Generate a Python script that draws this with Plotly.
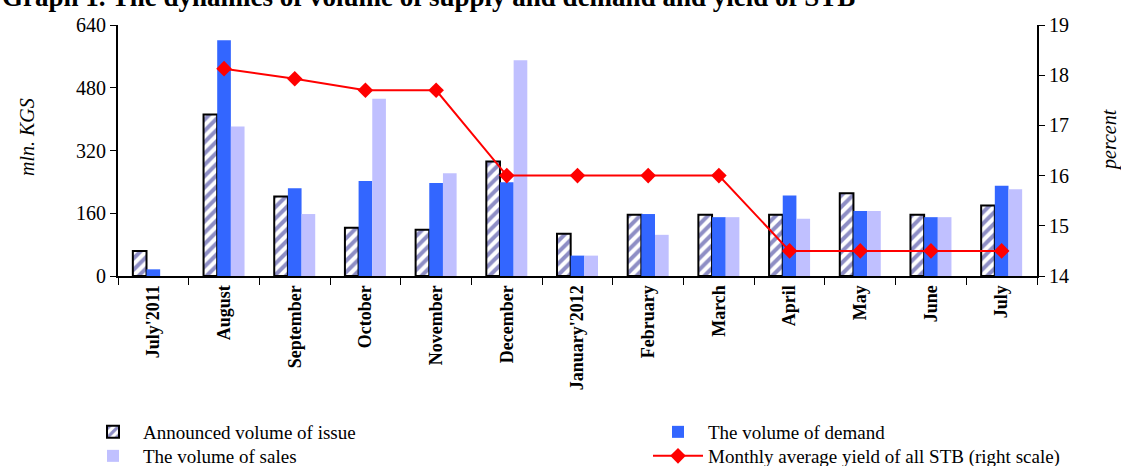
import plotly.graph_objects as go

categories = ["July'2011", "August", "September", "October", "November", "December",
              "January'2012", "February", "March", "April", "May", "June", "July"]
announced = [64, 412, 203, 123, 118, 292, 108, 156, 156, 156, 211, 156, 180]
demand = [17, 601, 224, 242, 237, 239, 52, 158, 150, 205, 166, 150, 230]
sales = [0, 381, 158, 452, 262, 550, 52, 105, 150, 146, 166, 150, 221]
yield_pct = [None, 18.13, 17.93, 17.7, 17.7, 16.0, 16.0, 16.0, 16.0, 14.5, 14.5, 14.5, 14.5]

FONT = "Liberation Serif"
W, H = 1121, 466
ML, MR, MT, MB = 118, 84, 25, 190
PW, PH = W - ML - MR, H - MT - MB


def px_x(p):
    return (p - ML) / PW


def px_y(p):
    return (H - MB - p) / PH


fig = go.Figure()
fig.add_trace(go.Bar(
    x=categories, y=announced, name="Announced volume of issue", legend="legend",
    marker=dict(color="white", line=dict(color="black", width=2),
                pattern=dict(shape="/", fgcolor="#1E1E8C", bgcolor="white", size=8, solidity=0.5)),
))
fig.add_trace(go.Bar(
    x=categories, y=demand, name="The volume of demand", legend="legend2",
    marker=dict(color="#3366FF", line=dict(width=0)),
))
fig.add_trace(go.Bar(
    x=categories, y=sales, name="The volume of sales", legend="legend3",
    marker=dict(color="#C0C0FF", line=dict(width=0)),
))
fig.add_trace(go.Scatter(
    x=categories, y=yield_pct, name="Monthly average yield of all STB (right scale)",
    legend="legend4", yaxis="y2", mode="lines+markers",
    line=dict(color="#FF0000", width=2),
    marker=dict(symbol="diamond", size=12, color="#FF0000"),
))

legend_common = dict(orientation="v", yanchor="top", xanchor="left",
                     font=dict(family=FONT, size=19), itemwidth=50, tracegroupgap=0,
                     bgcolor="rgba(0,0,0,0)")
col1, col2 = px_x(83), px_x(648)
row1, row2 = px_y(413), px_y(437)

fig.update_layout(
    width=W, height=H,
    margin=dict(l=ML, r=MR, t=MT, b=MB, autoexpand=False),
    paper_bgcolor="white", plot_bgcolor="white",
    font=dict(family=FONT, size=19, color="black"),
    barmode="group", bargap=0.42, bargroupgap=0,
    showlegend=True,
    legend=dict(x=col1, y=row1, **legend_common),
    legend2=dict(x=col2, y=row1, **legend_common),
    legend3=dict(x=col1, y=row2, **legend_common),
    legend4=dict(x=col2, y=row2, **legend_common),
    xaxis=dict(type="category", range=[-0.5, len(categories) - 0.5],
               showline=True, linecolor="black", linewidth=2,
               ticks="outside", tickson="boundaries", ticklen=7, tickcolor="black",
               tickangle=-90, tickfont=dict(family=FONT, size=18, color="black"),
               showgrid=False, automargin=False,
               tickvals=categories, ticktext=[f"<b>{c}</b>" for c in categories]),
    yaxis=dict(range=[0, 640], tickvals=[0, 160, 320, 480, 640], showline=True,
               linecolor="black", linewidth=2, ticks="outside", ticklen=6, tickcolor="black",
               showgrid=False, zeroline=False, automargin=False,
               tickfont=dict(family=FONT, size=20)),
    yaxis2=dict(range=[14, 19], dtick=1, overlaying="y", side="right", showline=True,
                linecolor="black", linewidth=2, ticks="outside", ticklen=6, tickcolor="black",
                showgrid=False, zeroline=False, automargin=False,
                tickfont=dict(family=FONT, size=20)),
)

fig.add_annotation(
    text="<i>mln. KGS</i>", xref="paper", yref="paper", x=px_x(27), y=px_y(137),
    xanchor="center", yanchor="middle", textangle=-90, showarrow=False,
    font=dict(family=FONT, size=20, color="black"),
)
fig.add_annotation(
    text="<i>percent</i>", xref="paper", yref="paper", x=px_x(1109), y=px_y(140),
    xanchor="center", yanchor="middle", textangle=-90, showarrow=False,
    font=dict(family=FONT, size=20, color="black"),
)
fig.add_annotation(
    text="<b>Graph 1. The dynamics of volume of supply and demand and yield of STB</b>",
    xref="paper", yref="paper", x=px_x(0), y=1.044, xanchor="left", yanchor="bottom",
    showarrow=False, font=dict(family=FONT, size=27, color="black"),
)

fig.write_html("out.html")
